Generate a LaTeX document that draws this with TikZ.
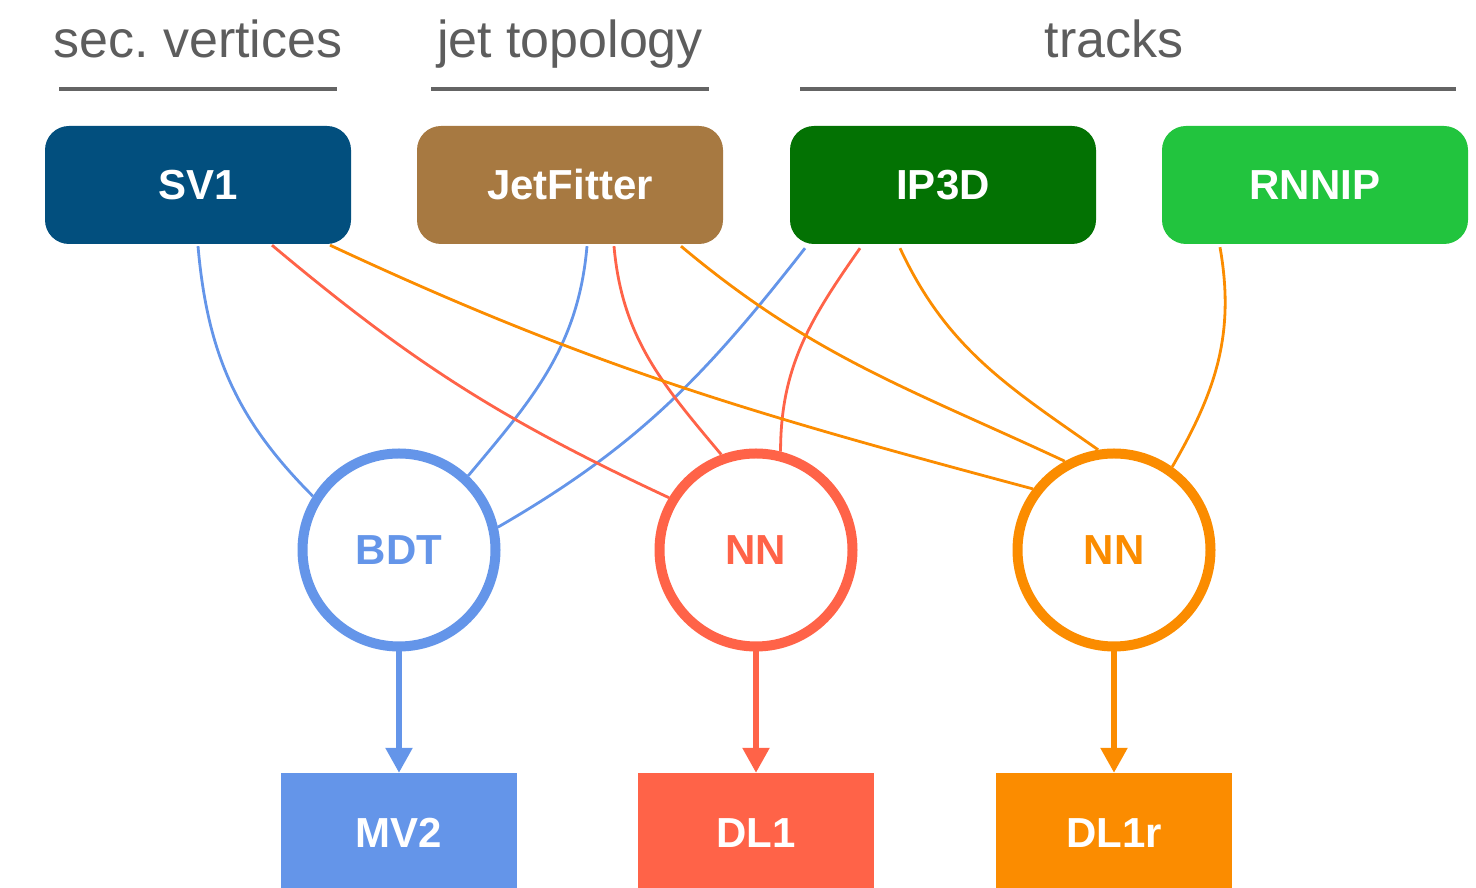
\documentclass[tikz,border=0pt]{standalone}
\usepackage{fontspec}
\setmainfont{Liberation Sans}
\usetikzlibrary{arrows.meta}
\frenchspacing
\definecolor{svblue}{RGB}{2,79,126}
\definecolor{jfbrown}{RGB}{167,121,65}
\definecolor{ipgreen}{RGB}{3,114,3}
\definecolor{rnngreen}{RGB}{34,196,62}
\definecolor{cblue}{RGB}{100,149,233}
\definecolor{cred}{RGB}{255,99,72}
\definecolor{corange}{RGB}{251,140,0}
\definecolor{hgrey}{RGB}{93,93,93}
\definecolor{lgrey}{RGB}{100,100,100}
\begin{document}
\begin{tikzpicture}[x=1pt,y=1pt,
  header/.style={anchor=base,text=hgrey,font=\fontsize{52}{60}\selectfont},
  hline/.style={draw=lgrey,line width=4pt},
  inbox/.style={rectangle,rounded corners=24pt,minimum width=306pt,minimum height=118pt,
    inner sep=0pt,text=white,font=\fontsize{42}{50}\selectfont\bfseries},
  algo/.style={circle,minimum size=193pt,inner sep=0pt,line width=10pt,fill=white,
    font=\fontsize{42}{50}\selectfont\bfseries},
  outbox/.style={rectangle,minimum width=236pt,minimum height=120pt,inner sep=0pt,
    text=white,font=\fontsize{42}{50}\selectfont\bfseries},
  conn/.style={line width=2.8pt},
  outarrow/.style={line width=5.5pt,-{Triangle[width=26pt,length=25pt]}}
]
\useasboundingbox (0,0) rectangle (1476,888);

% headers
\node[header] (hsv) at (198,830) {sec. vertices};
\node[header] (hjet) at (570,830) {jet topology};
\node[header] (htr) at (1114,830) {tracks};
\coordinate (l1a) at (59,798.5);  \coordinate (l1b) at (337,798.5);
\coordinate (l2a) at (431,798.5); \coordinate (l2b) at (709,798.5);
\coordinate (l3a) at (800,798.5); \coordinate (l3b) at (1456,798.5);
\draw[hline] (l1a) -- (l1b);
\draw[hline] (l2a) -- (l2b);
\draw[hline] (l3a) -- (l3b);

% input boxes
\node[inbox,fill=svblue] (sv1) at (198,703) {SV1};
\node[inbox,fill=jfbrown] (jf) at (570,703) {JetFitter};
\node[inbox,fill=ipgreen] (ip3d) at (943,703) {IP3D};
\node[inbox,fill=rnngreen] (rnnip) at (1315,703) {RNNIP};

% algorithm circles
\node[algo,draw=cblue,text=cblue] (bdt) at (399,338) {BDT};
\node[algo,draw=cred,text=cred] (nn1) at (756,338) {NN};
\node[algo,draw=corange,text=corange] (nn2) at (1114,338) {NN};

% output boxes
\node[outbox,fill=cblue] (mv2) at (399,55) {MV2};
\node[outbox,fill=cred] (dl1) at (756,55) {DL1};
\node[outbox,fill=corange] (dl1r) at (1114,55) {DL1r};

% connectors to BDT
\draw[conn,cblue] ([yshift=-2pt]sv1.south) to[out=-85,in=135] (bdt.148);
\draw[conn,cblue] ([xshift=17pt,yshift=-2pt]jf.south) to[out=-95,in=50] (bdt.47);
\draw[conn,cblue] ([xshift=-138pt,yshift=-4pt]ip3d.south) to[out=-128,in=30] (bdt.13);

% connectors to NN (DL1)
\draw[conn,cred] ([xshift=74pt,yshift=-1pt]sv1.south) to[out=-40,in=155] (nn1.149);
\draw[conn,cred] ([xshift=44pt,yshift=-2pt]jf.south) to[out=-85,in=130] (nn1.110);
\draw[conn,cred] ([xshift=-83pt,yshift=-4pt]ip3d.south) to[out=-125,in=90] (nn1.76);

% connectors to NN (DL1r)
\draw[conn,corange] ([xshift=132pt,yshift=-1pt]sv1.south) to[out=-25,in=165] (nn2.143);
\draw[conn,corange] ([xshift=111pt,yshift=-2pt]jf.south) to[out=-40,in=155] (nn2.119);
\draw[conn,corange] ([xshift=-43pt,yshift=-4pt]ip3d.south) to[out=-65,in=145] (nn2.99);
\draw[conn,corange] ([xshift=-95pt,yshift=-3pt]rnnip.south) to[out=-80,in=60] (nn2.55);

% outputs
\draw[outarrow,cblue] (bdt.south) -- (mv2.north);
\draw[outarrow,cred] (nn1.south) -- (dl1.north);
\draw[outarrow,corange] (nn2.south) -- (dl1r.north);
\end{tikzpicture}
\end{document}
